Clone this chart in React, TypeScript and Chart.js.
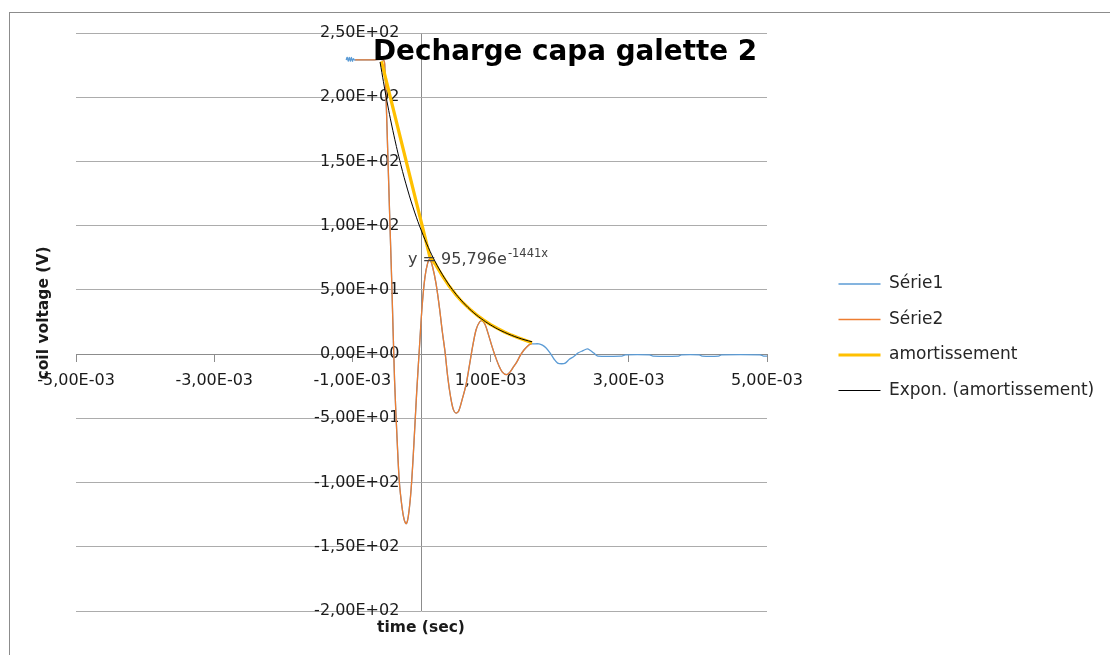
import React, { useEffect, useRef } from "react";
import { Chart, registerables } from "chart.js";

Chart.register(...registerables);

// ---------- data (time in ms, voltage in V) ----------
const s1TimeMs = [
  -1.09, -1.075, -1.06, -1.045, -1.03, -1.015, -1.0, -0.985, -0.97, -0.955, -0.9, -0.7, -0.55,
  -0.53, -0.51, -0.49, -0.46, -0.43, -0.39, -0.35, -0.32, -0.28, -0.25, -0.22, -0.19, -0.15,
  -0.11, -0.07, -0.03, 0.01, 0.05, 0.09, 0.12, 0.16, 0.21, 0.26, 0.3, 0.34, 0.38, 0.42, 0.46,
  0.5, 0.54, 0.59, 0.64, 0.69, 0.74, 0.79, 0.84, 0.88, 0.92, 0.97, 1.02, 1.07, 1.12, 1.17,
  1.23, 1.28, 1.33, 1.38, 1.43, 1.48, 1.53, 1.58, 1.62, 1.7, 1.75, 1.8, 1.86, 1.92, 1.97,
  2.03, 2.08, 2.14, 2.2, 2.27, 2.33, 2.4, 2.44, 2.49, 2.55, 2.9, 2.95, 3.3, 3.35, 3.72, 3.76,
  4.02, 4.06, 4.3, 4.34, 4.9, 4.95, 5.0,
];
const s1Volt = [
  229, 231, 228, 231, 228, 231, 228, 230, 229, 229, 229, 229, 229,
  222, 195, 160, 107, 55, -20, -70, -100, -120, -129, -132, -126, -105,
  -70, -30, 5, 38, 60, 71, 74, 68, 55, 36, 18, 2, -18, -33, -43,
  -46, -44, -35, -25, -10, 6, 19, 25, 26, 23, 15, 6, -2, -9, -14,
  -16, -14, -10, -6, -1, 3, 6, 8, 8, 8, 7, 5, 1, -4, -7,
  -7.5, -7, -4, -2, 1, 2.5, 4, 3, 1, -1.5, -1.5, -0.6, -0.6, -1.5, -1.5, -0.6,
  -0.6, -1.5, -1.5, -0.6, -0.6, -1.5, -1.5,
];

const s2TimeMs = [
  -0.96, -0.7, -0.55, -0.53, -0.51, -0.49, -0.46, -0.43, -0.39, -0.35, -0.32, -0.28, -0.25,
  -0.22, -0.19, -0.15, -0.11, -0.07, -0.03, 0.01, 0.05, 0.09, 0.12, 0.16, 0.21, 0.26, 0.3,
  0.34, 0.38, 0.42, 0.46, 0.5, 0.54, 0.59, 0.64, 0.69, 0.74, 0.79, 0.84, 0.88, 0.92, 0.97,
  1.02, 1.07, 1.12, 1.17, 1.23, 1.28, 1.33, 1.38, 1.43, 1.48, 1.53, 1.58, 1.6,
];
const s2Volt = [
  229, 229, 229, 222, 195, 160, 107, 55, -20, -70, -100, -120, -129,
  -132, -126, -105, -70, -30, 5, 38, 60, 71, 74, 68, 55, 36, 18,
  2, -18, -33, -43, -46, -44, -35, -25, -10, 6, 19, 25, 26, 23, 15,
  6, -2, -9, -14, -16, -14, -10, -6, -1, 3, 6, 8, 8,
];

const amortTimeMs = [
  -0.58, 0.12, 0.2, 0.3, 0.4, 0.5, 0.6, 0.7, 0.8, 0.9, 1.0, 1.1, 1.2, 1.3, 1.4, 1.5, 1.6,
];
const amortVolt = [
  228, 76, 70, 61, 53, 46, 40, 35, 30.5, 26.5, 23, 20, 17.2, 14.8, 12.7, 10.7, 8.8,
];

const exponTimeMs = [
  -0.6, -0.5, -0.4, -0.3, -0.2, -0.1, 0, 0.1, 0.2, 0.3, 0.4, 0.5, 0.6, 0.7, 0.8, 0.9, 1.0,
  1.1, 1.2, 1.3, 1.4, 1.5, 1.6,
];
const exponVolt = [
  227.4, 196.9, 170.5, 147.6, 127.8, 110.6, 95.8, 82.9, 71.8, 62.2, 53.8, 46.6, 40.4, 34.9,
  30.2, 26.2, 22.7, 19.6, 17.0, 14.7, 12.7, 11.0, 9.6,
];

const seriesNames = ["Série1", "Série2", "amortissement", "Expon. (amortissement)"];
const X_TICK_LABELS = ["-5,00E-03", "-3,00E-03", "-1,00E-03", "1,00E-03", "3,00E-03", "5,00E-03"];
const Y_TICK_LABELS = [
  "-2,00E+02", "-1,50E+02", "-1,00E+02", "-5,00E+01", "0,00E+00",
  "5,00E+01", "1,00E+02", "1,50E+02", "2,00E+02", "2,50E+02",
];
const TITLE = "Decharge capa galette 2";
const X_TITLE = "time (sec)";
const Y_TITLE = "coil voltage (V)";
const EQ_MAIN = "y = 95,796e";
const EQ_EXP = "-1441x";

const toPoints = (t: number[], v: number[]) => t.map((ms, i) => ({ x: ms * 1e-3, y: v[i] }));

const FONT = "DejaVu Sans";
const AXIS_GRAY = "#8c8c8c";
const GRID_GRAY = "#acacac";
const LEGEND_LEFT = 810;
const LEGEND_TOP = 244;

const textPlugin = {
  id: "extraText",
  afterLayout(chart: any) {
    const lg = chart.legend;
    if (!lg) return;
    const w = lg.width;
    lg.left = LEGEND_LEFT;
    lg.right = LEGEND_LEFT + w;
    lg.top = LEGEND_TOP;
    lg.bottom = LEGEND_TOP + 300;
    lg.height = 300;
  },
  afterDraw(chart: any) {
    const ctx = chart.ctx as CanvasRenderingContext2D;
    ctx.save();
    ctx.fillStyle = "#000";
    ctx.textAlign = "left";
    ctx.textBaseline = "alphabetic";
    ctx.font = `bold 27.8px "${FONT}"`;
    ctx.fillText(TITLE, 363, 47);

    ctx.fillStyle = "#1a1a1a";
    ctx.font = `bold 15.5px "${FONT}"`;
    ctx.textAlign = "center";
    ctx.fillText(X_TITLE, 411, 619);

    ctx.save();
    ctx.translate(38, 300);
    ctx.rotate(-Math.PI / 2);
    ctx.fillText(Y_TITLE, 0, 0);
    ctx.restore();

    ctx.fillStyle = "#404040";
    ctx.textAlign = "left";
    ctx.textBaseline = "middle";
    ctx.font = `16px "${FONT}"`;
    ctx.fillText(EQ_MAIN, 398, 247);
    const w = ctx.measureText(EQ_MAIN).width;
    ctx.font = `11.5px "${FONT}"`;
    ctx.fillText(EQ_EXP, 398 + w + 1, 241);
    ctx.restore();
  },
};

export default function App() {
  const ref = useRef<HTMLCanvasElement>(null);

  useEffect(() => {
    if (!ref.current) return;
    Chart.defaults.font.family = FONT;
    Chart.defaults.color = "#262626";
    const chart = new Chart(ref.current, {
      type: "line",
      data: {
        datasets: [
          {
            label: seriesNames[0],
            data: toPoints(s1TimeMs, s1Volt),
            borderColor: "#5B9BD5",
            backgroundColor: "#5B9BD5",
            borderWidth: 1.3,
            pointRadius: 0,
            tension: 0.3,
            order: 4,
          },
          {
            label: seriesNames[1],
            data: toPoints(s2TimeMs, s2Volt),
            borderColor: "#ED7D31",
            backgroundColor: "#ED7D31",
            borderWidth: 1.3,
            pointRadius: 0,
            tension: 0.3,
            order: 3,
          },
          {
            label: seriesNames[2],
            data: toPoints(amortTimeMs, amortVolt),
            borderColor: "#FFC000",
            backgroundColor: "#FFC000",
            borderWidth: 3.2,
            pointRadius: 0,
            tension: 0,
            order: 2,
          },
          {
            label: seriesNames[3],
            data: toPoints(exponTimeMs, exponVolt),
            borderColor: "#000000",
            backgroundColor: "#000000",
            borderWidth: 1,
            pointRadius: 0,
            tension: 0.4,
            order: 1,
          },
        ],
      },
      options: {
        responsive: false,
        animation: false,
        events: [],
        layout: { padding: { left: 66, top: 20, right: 343, bottom: 44 } },
        scales: {
          x: {
            type: "linear",
            min: -5e-3,
            max: 5e-3,
            position: { y: 0 } as any,
            ticks: {
              stepSize: 1e-3,
              autoSkip: false,
              maxRotation: 0,
              minRotation: 0,
              padding: 10,
              color: "#1a1a1a",
              font: { size: 16 },
              callback: (_v: any, i: number) => (i % 2 === 0 ? X_TICK_LABELS[i / 2] : ""),
            },
            grid: {
              drawOnChartArea: true,
              drawTicks: true,
              tickLength: 7,
              lineWidth: 1,
              color: (c: any) => (c.tick && c.tick.value === 0 ? AXIS_GRAY : "rgba(0,0,0,0)"),
              tickColor: (c: any) => (c.index % 2 === 0 ? AXIS_GRAY : "rgba(0,0,0,0)"),
            },
            border: { display: true, color: AXIS_GRAY, width: 1 },
          },
          y: {
            type: "linear",
            min: -200,
            max: 250,
            position: { x: -0.32e-3 } as any,
            ticks: {
              stepSize: 50,
              color: "#1a1a1a",
              font: { size: 16 },
              callback: (_v: any, i: number) => Y_TICK_LABELS[i],
            },
            grid: { drawTicks: false, color: GRID_GRAY, lineWidth: 1 },
            border: { display: false },
          },
        },
        plugins: {
          title: { display: false },
          tooltip: { enabled: false },
          legend: {
            display: true,
            position: "chartArea",
            fullSize: false,
            align: "start",
            labels: {
              usePointStyle: true,
              pointStyle: "line",
              pointStyleWidth: 42,
              padding: 18.5,
              color: "#262626",
              font: { size: 17 },
              sort: (a: any, b: any) => a.datasetIndex - b.datasetIndex,
            },
          },
        },
      },
      plugins: [textPlugin],
    } as any);
    return () => chart.destroy();
  }, []);

  return (
    <div
      style={{
        position: "absolute",
        left: 9,
        top: 12,
        width: 1101,
        height: 643,
        boxSizing: "border-box",
        borderTop: "1px solid #8c8c8c",
        borderLeft: "1px solid #8c8c8c",
        background: "#fff",
      }}
    >
      <canvas ref={ref} width={1100} height={642} style={{ display: "block" }} />
    </div>
  );
}
